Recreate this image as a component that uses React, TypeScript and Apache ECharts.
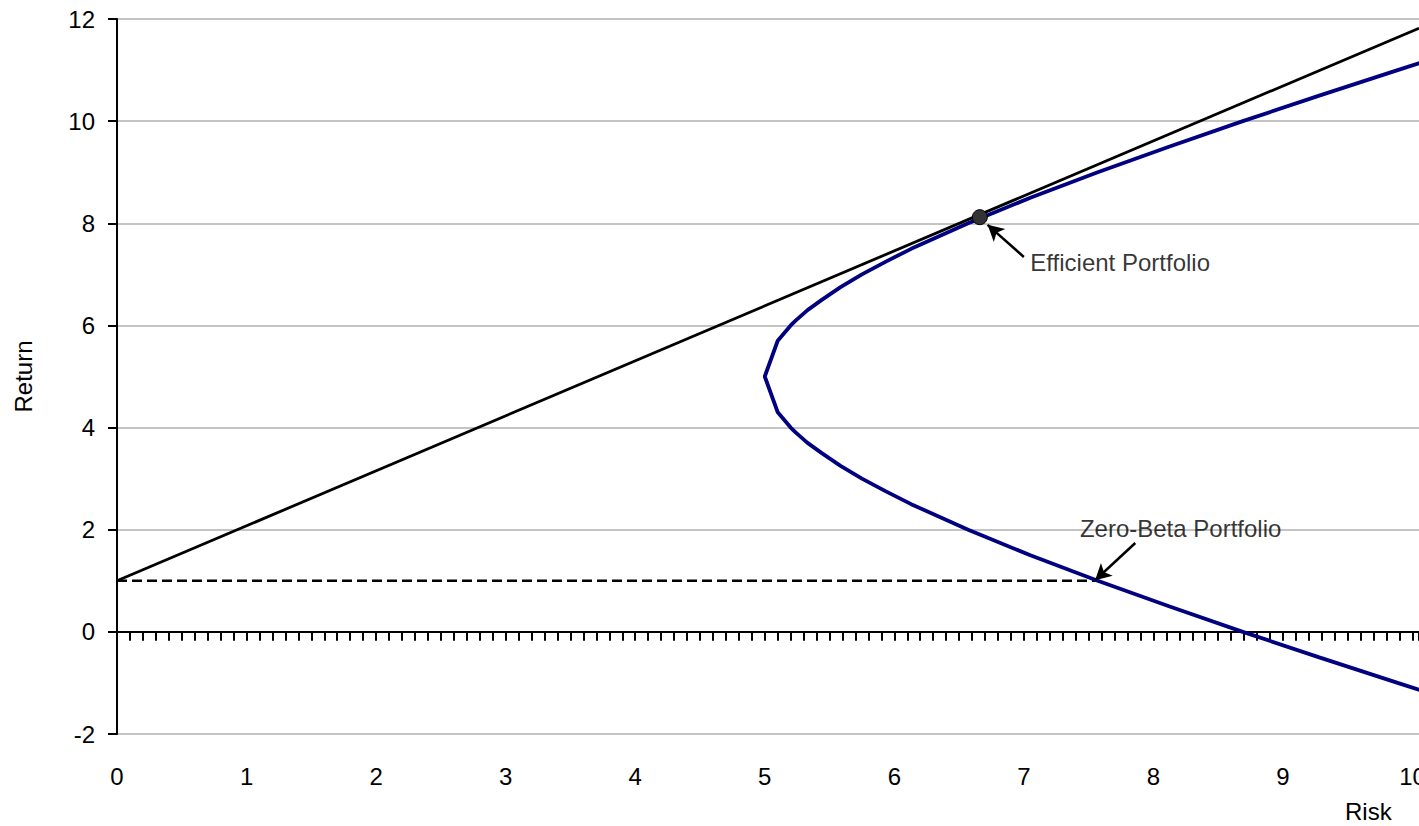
import React, { useEffect, useRef } from "react";
import * as echarts from "echarts";

// Efficient frontier (risk, return) pairs
const frontierRisk = [10.13, 9.885, 9.28, 8.69, 8.12, 7.57, 7.05, 6.57, 6.13, 5.935, 5.75, 5.585, 5.44, 5.33, 5.24, 5.2, 5.1, 5.0, 5.1, 5.2, 5.24, 5.33, 5.44, 5.585, 5.75, 5.935, 6.13, 6.57, 7.05, 7.57, 8.12, 8.69, 9.28, 9.885, 10.13];
const frontierReturn = [-1.2, -1.0, -0.5, 0, 0.5, 1, 1.5, 2, 2.5, 2.75, 3, 3.25, 3.5, 3.7, 3.9, 4.0, 4.3, 5, 5.7, 6.0, 6.1, 6.3, 6.5, 6.75, 7, 7.25, 7.5, 8, 8.5, 9, 9.5, 10, 10.5, 11, 11.2];

// Tangent (capital market) line
const tangentRisk = [0, 10.05];
const tangentReturn = [1, 11.82];

// Zero-beta dashed line
const zeroBetaRisk = [0, 7.55];
const zeroBetaReturn = [1, 1];

// Efficient portfolio point
const efficientPoint = [6.66, 8.12];

// Annotations
const annotationNames = ["Efficient Portfolio", "Zero-Beta Portfolio"];
const annotationRisk = [7.05, 8.21];
const annotationReturn = [7.24, 2.03];
const arrowFrom = [[7.0, 7.34], [7.86, 1.74]];
const arrowTo = [[6.72, 7.97], [7.55, 1.01]];

// Axis ticks
const yTicks = [-2, 0, 2, 4, 6, 8, 10, 12];
const xMin = 0;
const xMax = 10.05;
const xMinorStep = 0.1;

const FONT = "'Liberation Sans Narrow', 'Arial Narrow', 'Liberation Sans', Arial, sans-serif";
const FS = 24;

export default function App() {
  const ref = useRef<HTMLDivElement>(null);
  useEffect(() => {
    if (!ref.current) return;
    const chart = echarts.init(ref.current, null, { renderer: "svg" });
    const zip = (a: number[], b: number[]) => a.map((v, i) => [v, b[i]]);
    chart.setOption({
      animation: false,
      backgroundColor: "#ffffff",
      textStyle: { fontFamily: FONT },
      grid: {
        left: 117,
        top: 19,
        right: 0,
        bottom: 92,
        containLabel: false,
        outerBoundsMode: "none",
      },
      xAxis: {
        type: "value",
        min: xMin,
        max: xMax,
        interval: xMinorStep,
        axisLine: { show: true, onZero: true, lineStyle: { color: "#000", width: 2 } },
        axisTick: { show: true, length: 9, lineStyle: { color: "#000", width: 2 } },
        splitLine: { show: false },
        axisLabel: {
          margin: 30,
          color: "#000",
          fontFamily: FONT,
          fontSize: FS,
          formatter: (v: number) => (Math.abs(v - Math.round(v)) < 1e-6 ? String(Math.round(v)) : ""),
        },
      },
      yAxis: {
        type: "value",
        min: yTicks[0],
        max: yTicks[yTicks.length - 1],
        interval: yTicks[1] - yTicks[0],
        name: "Return",
        nameLocation: "middle",
        nameGap: 82,
        nameTextStyle: { color: "#000", fontFamily: FONT, fontSize: FS },
        axisLine: { show: true, onZero: false, lineStyle: { color: "#000", width: 2 } },
        axisTick: { show: true, length: 9, lineStyle: { color: "#000", width: 2 } },
        axisLabel: { margin: 22, color: "#000", fontFamily: FONT, fontSize: FS },
        splitLine: { show: true, lineStyle: { color: "#c4c4c4", width: 2 } },
      },
      graphic: [
        {
          type: "text",
          left: 1345,
          top: 799,
          style: { text: "Risk", fill: "#000", font: `${FS}px ${FONT}` },
        },
      ],
      series: [
        {
          name: "Zero-Beta Line",
          type: "line",
          data: zip(zeroBetaRisk, zeroBetaReturn),
          showSymbol: false,
          lineStyle: { color: "#000", width: 2.4, type: [10, 5] },
          z: 2,
        },
        {
          name: "Frontier",
          type: "line",
          data: zip(frontierRisk, frontierReturn),
          showSymbol: false,
          lineStyle: { color: "#000080", width: 3.8 },
          z: 3,
        },
        {
          name: "Tangent",
          type: "line",
          data: zip(tangentRisk, tangentReturn),
          showSymbol: false,
          lineStyle: { color: "#000", width: 2.8 },
          z: 4,
        },
        {
          name: "Efficient Portfolio",
          type: "scatter",
          data: [efficientPoint],
          symbol: "circle",
          symbolSize: 15,
          itemStyle: { color: "#333333", borderColor: "#000", borderWidth: 1, opacity: 1 },
          z: 6,
        },
        {
          name: "Annotations",
          type: "scatter",
          symbolSize: 0,
          data: annotationNames.map((n, i) => ({
            name: n,
            value: [annotationRisk[i], annotationReturn[i]],
            label: {
              show: true,
              position: i === 0 ? "right" : "inside",
              distance: 0,
              formatter: "{b}",
              color: "#000",
              fontFamily: FONT,
              fontSize: FS,
            },
          })),
          markLine: {
            silent: true,
            symbol: ["none", "arrow"],
            symbolSize: [13, 16],
            label: { show: false },
            lineStyle: { color: "#000", width: 2.5, type: "solid" },
            data: arrowFrom.map((f, i) => [{ coord: f }, { coord: arrowTo[i] }]),
          },
          z: 7,
        },
      ],
    });
    return () => chart.dispose();
  }, []);
  return (
    <div
      ref={ref}
      style={{ position: "fixed", left: 0, top: 0, width: 1419, height: 826, background: "#fff" }}
    />
  );
}
